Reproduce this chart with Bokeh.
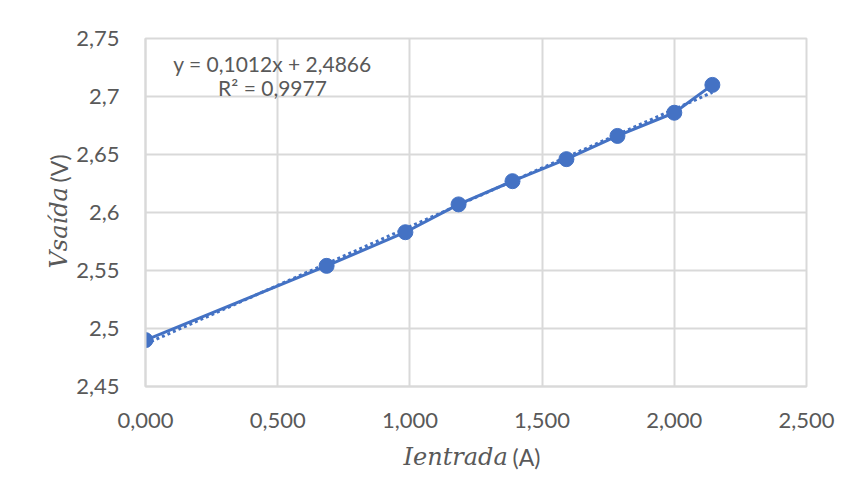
from bokeh.plotting import figure
from bokeh.models import Range1d, FixedTicker, Label, ColumnDataSource
from bokeh.embed import file_html
from bokeh.resources import INLINE

# data
x_vals = [0.000, 0.685, 0.983, 1.184, 1.388, 1.592, 1.785, 2.000, 2.144]
y_vals = [2.490, 2.554, 2.583, 2.607, 2.627, 2.646, 2.666, 2.686, 2.710]

slope = 0.1012
intercept = 2.4866
equation_text = "y = 0,1012x + 2,4866"
r2_text = "R² = 0,9977"

x_ticks = [0.0, 0.5, 1.0, 1.5, 2.0, 2.5]
x_tick_labels = ["0,000", "0,500", "1,000", "1,500", "2,000", "2,500"]
y_ticks = [2.45, 2.5, 2.55, 2.6, 2.65, 2.7, 2.75]
y_tick_labels = ["2,45", "2,5", "2,55", "2,6", "2,65", "2,7", "2,75"]

BLUE = "#4472C4"
GRID = "#D9D9D9"
TXT = "#595959"
FONT = "Lato"

W, H = 849, 497

p = figure(width=W, height=H, output_backend="svg", toolbar_location=None,
           x_range=Range1d(0, 2.5), y_range=Range1d(2.45, 2.75),
           min_border_left=145, min_border_right=43,
           min_border_top=38, min_border_bottom=111)

p.outline_line_color = GRID
p.outline_line_width = 2

for ax in (p.xaxis[0], p.yaxis[0]):
    ax.axis_line_color = GRID
    ax.axis_line_width = 2
    ax.major_tick_line_color = None
    ax.minor_tick_line_color = None
    ax.major_label_text_font = FONT
    ax.major_label_text_font_size = "22px"
    ax.major_label_text_color = TXT
    ax.major_label_standoff = 20

p.xaxis.ticker = FixedTicker(ticks=x_ticks)
p.yaxis.ticker = FixedTicker(ticks=y_ticks)
p.xaxis.major_label_overrides = {t: l for t, l in zip(x_ticks, x_tick_labels)}
p.yaxis.major_label_overrides = {t: l for t, l in zip(y_ticks, y_tick_labels)}

p.xgrid.ticker = FixedTicker(ticks=x_ticks)
p.ygrid.ticker = FixedTicker(ticks=y_ticks)
p.grid.grid_line_color = GRID
p.grid.grid_line_width = 2

src = ColumnDataSource(dict(x=x_vals, y=y_vals))

# trendline (from the fitted equation)
tx = [x_vals[0], x_vals[-1]]
ty = [slope * v + intercept for v in tx]
p.line(tx, ty, line_color=BLUE, line_width=3, line_dash="3 3")

p.line("x", "y", source=src, line_color=BLUE, line_width=3)
p.scatter("x", "y", source=src, size=15, fill_color=BLUE, line_color=BLUE)

def lab(x, y, text, place="center", font=FONT, size="21px", italic=False, angle=0.0, align="left"):
    lbl = Label(x=x, y=y, x_units="canvas", y_units="canvas", text=text,
                angle=angle, text_align=align, text_baseline="alphabetic",
                text_font=font, text_font_style="italic" if italic else "normal",
                text_font_size=size, text_color=TXT)
    p.add_layout(lbl, place)

# trendline equation
lab(272, 63, equation_text, align="center")
lab(272, 87, r2_text, align="center")

# x axis title
lab(403, 456, "Ientrada", place="below", font="DejaVu Serif", size="24px", italic=True)
lab(512, 456, "(A)", place="below", size="23px")

# y axis title
lab(58, 268, "Vsaída", place="left", font="DejaVu Serif", size="24px", italic=True, angle=1.5707963)
lab(58, 182, "(V)", place="left", size="23px", angle=1.5707963)

open("out.html", "w").write(file_html(p, INLINE))
